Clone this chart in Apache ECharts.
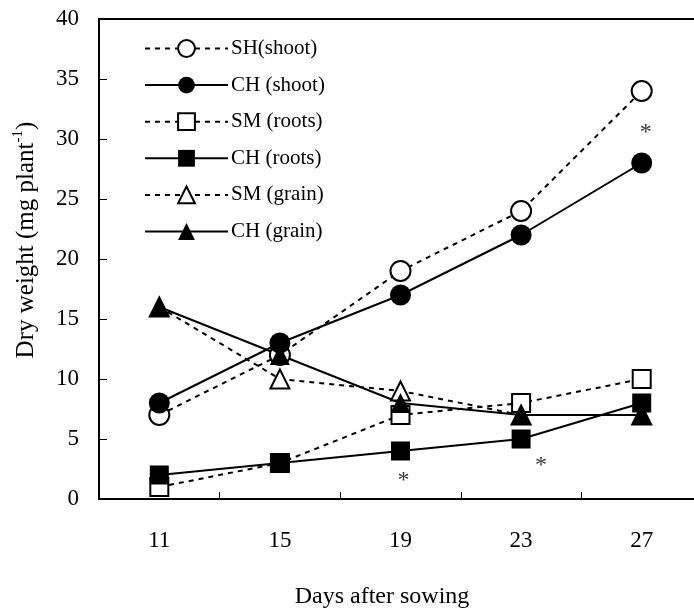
<!DOCTYPE html>
<html>
<head>
<meta charset="utf-8">
<script src="https://cdn.jsdelivr.net/npm/echarts@6/dist/echarts.min.js"></script>
<style>
html,body{margin:0;padding:0;background:#fff;}
#c{width:694px;height:615px;}
</style>
</head>
<body>
<div id="c"></div>
<script>
var days = ['11', '15', '19', '23', '27'];
var shShoot = [7, 12, 19, 24, 34];
var chShoot = [8, 13, 17, 22, 28];
var smRoots = [1, 3, 7, 8, 10];
var chRoots = [2, 3, 4, 5, 8];
var smGrain = [16, 10, 9, 7, 7];
var chGrain = [16, 12, 8, 7, 7];
var starDays = ['19', '23', '27'];
var starValues = [1.5, 2.8, 30.5];
var yTicks = [0, 5, 10, 15, 20, 25, 30, 35, 40];

var FONT = 'Liberation Serif';
var chart = echarts.init(document.getElementById('c'), null, {renderer: 'canvas'});

function mk(name, data, symbol, filled, dashed, size) {
  return {
    name: name, type: 'line', data: data,
    symbol: symbol, symbolSize: size,
    showSymbol: true,
    lineStyle: {color: '#000', width: 2, type: dashed ? [5, 5] : 'solid'},
    itemStyle: {color: filled ? '#000' : '#fff', borderColor: '#000', borderWidth: filled ? 0 : 2},
    emphasis: {disabled: true},
    animation: false
  };
}

var series = [
  mk('SH(shoot)', shShoot, 'circle', false, true, 20),
  mk('CH (shoot)', chShoot, 'circle', true, false, 21),
  mk('SM (roots)', smRoots, 'rect', false, true, 18),
  mk('CH (roots)', chRoots, 'rect', true, false, 19),
  mk('SM (grain)', smGrain, 'triangle', false, true, 19),
  mk('CH (grain)', chGrain, 'triangle', true, false, 20),
  {
    name: 'sig', type: 'scatter', symbolSize: 0, animation: false,
    data: starDays.map(function (d, i) { return [d, starValues[i]]; }),
    label: {
      show: true, formatter: '*', position: 'inside',
      fontFamily: FONT, fontSize: 24, color: '#000',
      offset: [0, 8]
    },
    labelLayout: function (p) {
      var offs = [3, 20, 4];
      return {dx: offs[p.dataIndex]};
    },
    silent: true
  }
];

chart.setOption({
  animation: false,
  backgroundColor: '#fff',
  grid: {left: 99, top: 19, width: 603, height: 480, outerBoundsMode: 'none', containLabel: false,
    show: true, borderColor: '#000', borderWidth: 2, backgroundColor: 'transparent'},
  legend: {
    data: ['SH(shoot)', 'CH (shoot)', 'SM (roots)', 'CH (roots)', 'SM (grain)', 'CH (grain)'],
    orient: 'vertical', left: 144, top: 38, padding: 0,
    itemWidth: 83, itemHeight: 21, itemGap: 15.6,
    textStyle: {fontFamily: FONT, fontSize: 21, color: '#000', padding: [0, 0, 0, -2]},
    selectedMode: false
  },
  xAxis: {
    type: 'category', data: days, boundaryGap: true,
    axisLine: {lineStyle: {color: '#000', width: 2}},
    axisTick: {show: true, inside: true, length: 7, lineStyle: {color: '#000', width: 1}},
    axisLabel: {fontFamily: FONT, fontSize: 23, color: '#000', margin: 30},
    splitLine: {show: false}
  },
  yAxis: {
    type: 'value', min: 0, max: 40, interval: 5,
    axisLine: {show: true, lineStyle: {color: '#000', width: 2}},
    axisTick: {show: true, inside: true, length: 8, lineStyle: {color: '#000', width: 1}},
    axisLabel: {fontFamily: FONT, fontSize: 23, color: '#000', margin: 20,
      formatter: function (v) { return yTicks.indexOf(v) >= 0 ? String(v) : ''; }},
    splitLine: {show: false}
  },
  graphic: [
    {
      type: 'text', x: 25, y: 240, rotation: Math.PI / 2, silent: true,
      style: {
        text: '{a|Dry weight (mg plant}{s|-1}{a|)}',
        align: 'center', verticalAlign: 'middle',
        rich: {
          a: {fontFamily: FONT, fontSize: 25, fill: '#000', verticalAlign: 'bottom', lineHeight: 28},
          s: {fontFamily: FONT, fontSize: 15, fill: '#000', verticalAlign: 'top', lineHeight: 28, padding: [0, 0, 13, 0]}
        }
      }
    },
    {
      type: 'text', x: 382, y: 597, silent: true,
      style: {text: 'Days after sowing', fontFamily: FONT, fontSize: 24, fill: '#000', align: 'center', verticalAlign: 'middle'}
    }
  ],
  series: series
});
</script>
</body>
</html>
